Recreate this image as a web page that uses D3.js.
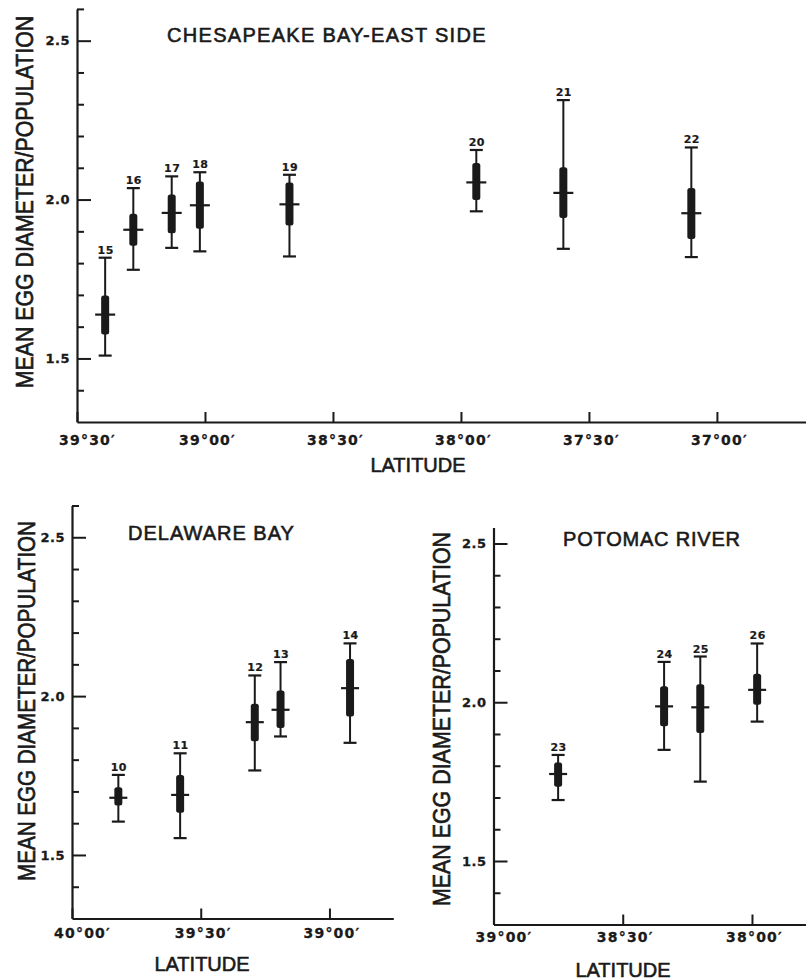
<!DOCTYPE html>
<html>
<head>
<meta charset="utf-8">
<script src="https://cdn.jsdelivr.net/npm/d3@7"></script>
<style>
  html, body { margin: 0; padding: 0; background: #ffffff; }
  svg { display: block; }
</style>
</head>
<body>
<svg id="chart" width="806" height="980"></svg>
<script>
// ---- Chesapeake Bay, east side (populations 15-22) ----
const chesId   = [15, 16, 17, 18, 19, 20, 21, 22];
const chesLat  = [39.39, 39.28, 39.13, 39.02, 38.67, 37.94, 37.60, 37.10];
const chesMean = [1.638, 1.905, 1.958, 1.982, 1.985, 2.054, 2.021, 1.957];
const chesLo   = [1.575, 1.855, 1.894, 1.908, 1.918, 1.999, 1.942, 1.876];
const chesHi   = [1.698, 1.955, 2.016, 2.057, 2.054, 2.115, 2.102, 2.036];
const chesMin  = [1.509, 1.779, 1.848, 1.837, 1.821, 1.963, 1.845, 1.819];
const chesMax  = [1.817, 2.036, 2.073, 2.086, 2.078, 2.156, 2.313, 2.164];
const chesTicks      = [39.5, 39.0, 38.5, 38.0, 37.5, 37.0];
const chesTickLabels = ["39°30′", "39°00′", "38°30′", "38°00′", "37°30′", "37°00′"];

// ---- Delaware Bay (populations 10-14) ----
const delId   = [10, 11, 12, 13, 14];
const delLat  = [39.82, 39.58, 39.29, 39.19, 38.92];
const delMean = [1.680, 1.689, 1.918, 1.957, 2.025];
const delLo   = [1.656, 1.633, 1.858, 1.900, 1.936];
const delHi   = [1.713, 1.752, 1.976, 2.018, 2.117];
const delMin  = [1.605, 1.553, 1.766, 1.873, 1.853];
const delMax  = [1.752, 1.820, 2.065, 2.107, 2.166];
const delTicks      = [40.0, 39.5, 39.0];
const delTickLabels = ["40°00′", "39°30′", "39°00′"];

// ---- Potomac River (populations 23-26) ----
const potId   = [23, 24, 25, 26];
const potLat  = [38.75, 38.34, 38.20, 37.98];
const potMean = [1.774, 1.987, 1.984, 2.039];
const potLo   = [1.734, 1.924, 1.903, 1.992];
const potHi   = [1.810, 2.050, 2.057, 2.090];
const potMin  = [1.692, 1.850, 1.750, 1.939];
const potMax  = [1.834, 2.127, 2.144, 2.185];
const potTicks      = [39.0, 38.5, 38.0];
const potTickLabels = ["39°00′", "38°30′", "38°00′"];

// ---- shared y-axis ticks ----
const yMajor       = [1.5, 2.0, 2.5];
const yMajorLabels = ["1.5", "2.0", "2.5"];
const yMinor       = [1.4, 1.6, 1.7, 1.8, 1.9, 2.1, 2.2, 2.3, 2.4, 2.6];

const yTitle = "MEAN EGG DIAMETER/POPULATION";
const xTitle = "LATITUDE";

const INK = "#1a1a1a";
const SANS = "'Liberation Sans', Arial, Helvetica, sans-serif";
const BOLD = "'DejaVu Sans', 'Liberation Sans', Arial, sans-serif";

const svg = d3.select("#chart");
svg.append("rect").attr("width", 806).attr("height", 980).attr("fill", "#ffffff");

function zip(id, lat, mean, lo, hi, mn, mx) {
  return id.map((d, i) => ({ id: d, lat: lat[i], mean: mean[i], lo: lo[i], hi: hi[i], min: mn[i], max: mx[i] }));
}

// heavier strokes on text, like typeset lettering
function ink(sel, w) {
  return sel.attr("fill", INK).attr("stroke", INK).attr("stroke-width", w).attr("paint-order", "stroke");
}

function drawPanel(p) {
  const g = svg.append("g");
  const x = d3.scaleLinear().domain(p.xDomain).range(p.xRange);
  const y = d3.scaleLinear().domain(p.yDomain).range(p.yRange);
  const x0 = p.xRange[0], y0 = p.yRange[0];

  // y axis: minor ticks, major ticks, labels
  const minor = p.yMinor.filter(v => v <= p.yDomain[1] + 1e-9);
  const yMinorAxis = g.append("g").attr("transform", `translate(${x0},0)`)
    .call(d3.axisRight(y).tickValues(minor).tickSize(7).tickSizeOuter(0).tickFormat(""));
  const yMajorAxis = g.append("g").attr("transform", `translate(${x0},0)`)
    .call(d3.axisRight(y).tickValues(p.yMajor).tickSize(14).tickSizeOuter(0).tickFormat(""));
  yMajorAxis.select(".domain").remove();
  const yLabelAxis = g.append("g").attr("transform", `translate(${x0},0)`)
    .call(d3.axisLeft(y).tickValues(p.yMajor).tickSize(0).tickPadding(7)
      .tickFormat((d, i) => p.yMajorLabels[i]));
  yLabelAxis.select(".domain").remove();
  ink(yLabelAxis.selectAll("text").attr("font-family", BOLD).attr("font-weight", "bold")
    .attr("font-size", 13).attr("letter-spacing", "0.5px"), 0.3);

  // x axis with ticks pointing up into the plot
  const xAxis = g.append("g").attr("transform", `translate(0,${y0})`)
    .call(d3.axisBottom(x).tickValues(p.xTicks).tickSizeInner(-10).tickSizeOuter(0)
      .tickPadding(p.xPad).tickFormat((d, i) => p.xTickLabels[i]));
  ink(xAxis.selectAll("text").attr("font-family", BOLD).attr("font-weight", "bold")
    .attr("font-size", 14).attr("letter-spacing", "1.2px")
    .attr("dx", (d, i) => (i === 0 ? 10 : 2)), 0.3);

  [yMinorAxis, yMajorAxis, xAxis].forEach(a => {
    a.selectAll("line").attr("stroke", INK).attr("stroke-width", 2);
    a.selectAll(".domain").attr("stroke", INK).attr("stroke-width", 2.2);
  });

  // titles
  ink(g.append("text").attr("x", p.title[1]).attr("y", p.title[2])
    .attr("font-family", SANS).attr("font-size", 20).attr("letter-spacing", p.title[3] + "px")
    .text(p.title[0]), 0.6);
  ink(g.append("text").attr("x", p.xt[0]).attr("y", p.xt[1]).attr("text-anchor", "middle")
    .attr("font-family", SANS).attr("font-size", 20).text(xTitle), 0.6);
  ink(g.append("text")
    .attr("transform", `translate(${p.yt[0]},${p.yt[1]}) rotate(-90) scale(1,1.12)`)
    .attr("text-anchor", "middle").attr("font-family", SANS).attr("font-size", p.yt[2])
    .text(yTitle), 0.6);

  // range markers: whisker with caps, thick bar, mean cross-line, population number
  const m = g.selectAll(".marker").data(p.data).join("g").attr("class", "marker");
  m.append("line").attr("x1", d => x(d.lat)).attr("x2", d => x(d.lat))
    .attr("y1", d => y(d.max)).attr("y2", d => y(d.min))
    .attr("stroke", INK).attr("stroke-width", 2);
  ["max", "min"].forEach(k => {
    m.append("line").attr("x1", d => x(d.lat) - 6.5).attr("x2", d => x(d.lat) + 6.5)
      .attr("y1", d => y(d[k])).attr("y2", d => y(d[k]))
      .attr("stroke", INK).attr("stroke-width", 2.2);
  });
  m.append("rect").attr("x", d => x(d.lat) - 4).attr("width", 8)
    .attr("y", d => y(d.hi)).attr("height", d => y(d.lo) - y(d.hi))
    .attr("rx", 2.5).attr("fill", INK);
  m.append("line").attr("x1", d => x(d.lat) - p.meanHalf).attr("x2", d => x(d.lat) + p.meanHalf)
    .attr("y1", d => y(d.mean)).attr("y2", d => y(d.mean))
    .attr("stroke", INK).attr("stroke-width", 2.2);
  ink(m.append("text").attr("x", d => x(d.lat) + 0.5).attr("y", d => y(d.max) - 4)
    .attr("text-anchor", "middle").attr("font-family", BOLD).attr("font-weight", "bold")
    .attr("font-size", 11).attr("letter-spacing", "0.5px").text(d => d.id), 0.2);
}

drawPanel({
  data: zip(chesId, chesLat, chesMean, chesLo, chesHi, chesMin, chesMax),
  xDomain: [39.5, 36.652], xRange: [77, 806],
  yDomain: [1.3, 2.6], yRange: [422, 8.9],
  yMajor, yMajorLabels, yMinor,
  xTicks: chesTicks, xTickLabels: chesTickLabels, xPad: 13,
  title: ["CHESAPEAKE BAY-EAST SIDE", 167, 42, 1.3],
  xt: [418, 472], yt: [33, 202, 21.3], meanHalf: 10
});

drawPanel({
  data: zip(delId, delLat, delMean, delLo, delHi, delMin, delMax),
  xDomain: [40.0, 38.752], xRange: [72, 393.3],
  yDomain: [1.3, 2.6], yRange: [918.5, 505.5],
  yMajor, yMajorLabels, yMinor,
  xTicks: delTicks, xTickLabels: delTickLabels, xPad: 10,
  title: ["DELAWARE BAY", 128, 540, 1],
  xt: [202, 971], yt: [35, 701, 20.6], meanHalf: 9
});

drawPanel({
  data: zip(potId, potLat, potMean, potLo, potHi, potMin, potMax),
  xDomain: [39.0, 37.791], xRange: [493.5, 806],
  yDomain: [1.3, 2.55], yRange: [924.5, 527.6],
  yMajor, yMajorLabels, yMinor,
  xTicks: potTicks, xTickLabels: potTickLabels, xPad: 8,
  title: ["POTOMAC RIVER", 563, 546, 0.8],
  xt: [623, 977], yt: [450, 719, 21.4], meanHalf: 9
});
</script>
</body>
</html>
